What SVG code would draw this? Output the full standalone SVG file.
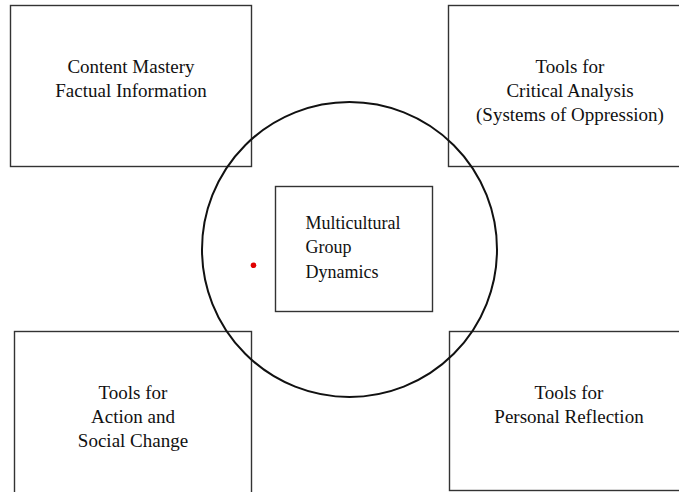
<svg xmlns="http://www.w3.org/2000/svg" width="679" height="492" viewBox="0 0 679 492">
<style>
  .box { fill: none; stroke: #333333; stroke-width: 1.4; }
  .ring { fill: none; stroke: #111111; stroke-width: 2; }
  .lbl { font-family: "Liberation Serif", "Times New Roman", serif; font-size: 19px; fill: #111111; }
  .sm { font-size: 18px; }
  .c { text-anchor: middle; }
</style>
<rect x="0" y="0" width="679" height="492" fill="#ffffff"/>
<g id="node-content-mastery">
  <rect class="box" x="10.5" y="5.5" width="241" height="161"/>
  <text class="lbl c" x="131" y="73">Content Mastery</text>
  <text class="lbl c" x="131" y="97">Factual Information</text>
</g>
<g id="node-critical-analysis">
  <rect class="box" x="448.5" y="5.5" width="242" height="161"/>
  <text class="lbl c" x="570" y="73">Tools for</text>
  <text class="lbl c" x="570" y="97">Critical Analysis</text>
  <text class="lbl c" x="570" y="121">(Systems of Oppression)</text>
</g>
<g id="node-action">
  <rect class="box" x="14.5" y="331.5" width="237" height="170"/>
  <text class="lbl c" x="133" y="399">Tools for</text>
  <text class="lbl c" x="133" y="423">Action and</text>
  <text class="lbl c" x="133" y="447">Social Change</text>
</g>
<g id="node-reflection">
  <rect class="box" x="449.5" y="331.5" width="241" height="159"/>
  <text class="lbl c" x="569" y="399">Tools for</text>
  <text class="lbl c" x="569" y="423">Personal Reflection</text>
</g>
<g id="node-circle">
  <circle class="ring" cx="349.5" cy="249.5" r="147.5"/>
  <circle cx="253.5" cy="265.3" r="2.8" fill="#e00000"/>
</g>
<g id="node-group-dynamics">
  <rect class="box" x="275.5" y="186.5" width="157" height="125"/>
  <text class="lbl sm" x="305.5" y="229">Multicultural</text>
  <text class="lbl sm" x="305.5" y="253">Group</text>
  <text class="lbl sm" x="305.5" y="278">Dynamics</text>
</g>
<g id="connectors"></g>
</svg>
